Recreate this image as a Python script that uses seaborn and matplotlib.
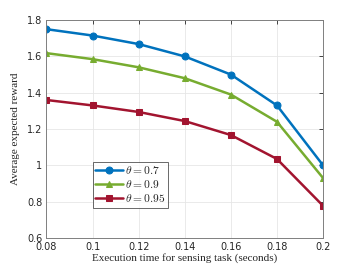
import numpy as np
import pandas as pd
import seaborn as sns
import matplotlib.pyplot as plt

# Data
exec_time = [0.08, 0.10, 0.12, 0.14, 0.16, 0.18, 0.20]
reward_07 = [1.750, 1.715, 1.668, 1.600, 1.500, 1.330, 1.000]
reward_09 = [1.618, 1.585, 1.540, 1.480, 1.390, 1.240, 0.930]
reward_095 = [1.360, 1.330, 1.294, 1.244, 1.167, 1.035, 0.777]
series_labels = [r'$\theta = 0.7$', r'$\theta = 0.9$', r'$\theta = 0.95$']

colors = ['#0072BD', '#77AC30', '#A2142F']
markers = ['o', '^', 's']

df = pd.DataFrame({
    'time': exec_time * 3,
    'reward': reward_07 + reward_09 + reward_095,
    'theta': [series_labels[0]] * 7 + [series_labels[1]] * 7 + [series_labels[2]] * 7,
})

sns.set_style('white')
plt.rcParams['mathtext.fontset'] = 'cm'
plt.rcParams['font.family'] = ['DejaVu Sans']

fig = plt.figure(figsize=(3.57, 2.68), dpi=100)
ax = fig.add_axes([0.130, 0.112, 0.775, 0.813])

for lab, c, m in zip(series_labels, colors, markers):
    sub = df[df['theta'] == lab]
    sns.lineplot(data=sub, x='time', y='reward', ax=ax, color=c, marker=m,
                 markersize=5, linewidth=1.8, markeredgecolor=c, label=lab)

ax.set_xlim(0.08, 0.2)
ax.set_ylim(0.6, 1.8)
ax.set_xticks(exec_time)
ax.set_xticklabels(['0.08', '0.1', '0.12', '0.14', '0.16', '0.18', '0.2'])
ax.set_yticks([0.6, 0.8, 1.0, 1.2, 1.4, 1.6, 1.8])
ax.set_yticklabels(['0.6', '0.8', '1', '1.2', '1.4', '1.6', '1.8'])
ax.grid(True, color='#e6e6e6', linewidth=0.6)
ax.tick_params(direction='in', length=3, labelsize=7, colors='#262626',
               top=True, right=True, width=0.6, pad=3)
for s in ax.spines.values():
    s.set_color('#7f7f7f')
    s.set_linewidth(0.7)

ax.set_xlabel('Execution time for sensing task (seconds)', family='Liberation Serif',
              fontsize=8, labelpad=1)
ax.set_ylabel('Average expected reward', family='Liberation Serif', fontsize=8, labelpad=5)

leg = ax.legend(loc='upper left', bbox_to_anchor=(0.168, 0.35), fontsize=8.3,
                frameon=True, fancybox=False, edgecolor='#262626', handlelength=2.4,
                borderpad=0.2, labelspacing=0.1, handletextpad=0.2, borderaxespad=0)
leg.get_frame().set_linewidth(0.6)

fig.savefig('out.png', dpi=100)
